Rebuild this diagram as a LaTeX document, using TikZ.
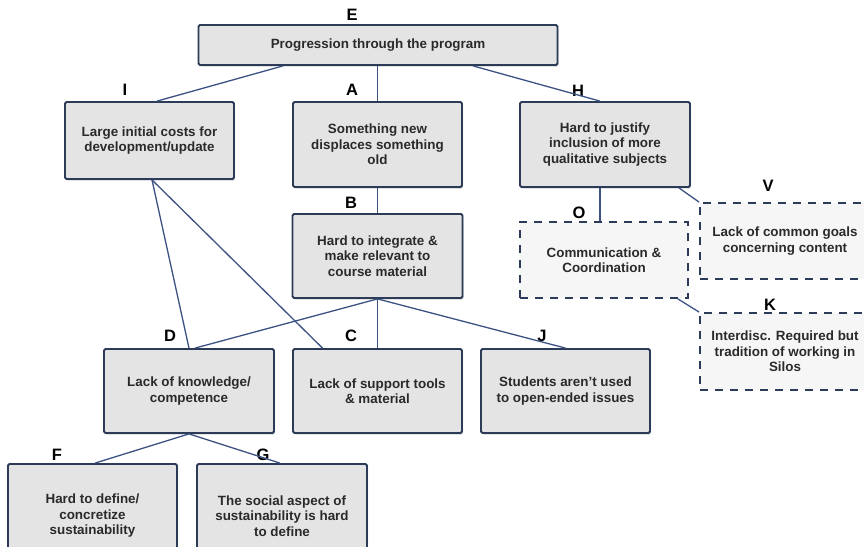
\documentclass[tikz,border=0pt]{standalone}
\usepackage{fontspec}
\setmainfont{Liberation Sans}
\usetikzlibrary{shadows}
\definecolor{edgeblue}{HTML}{2C3B58}
\definecolor{linkblue}{HTML}{3B5282}
\definecolor{boxgray}{HTML}{E4E4E4}
\definecolor{dashfill}{HTML}{F6F6F6}
\definecolor{txt}{HTML}{2A2A2A}
\tikzset{
  boxfont/.style={font=\bfseries\fontsize{13.4}{15.5}\selectfont},
  issue/.style={draw=edgeblue, line width=1.8pt, fill=boxgray, rounded corners=1.5pt,
    align=center, text=txt, boxfont, inner sep=0pt, anchor=center,
    drop shadow={shadow xshift=1.2pt, shadow yshift=-1.5pt, opacity=0.35}},
  softissue/.style={draw=edgeblue, line width=1.8pt, dash pattern=on 8pt off 7pt,
    fill=dashfill, align=center, text=txt, boxfont, inner sep=0pt, anchor=center},
  tag/.style={font=\bfseries\fontsize{16.5}{16.5}\selectfont, text=black, inner sep=0pt},
  link/.style={draw=linkblue, line width=1.3pt}
}
\begin{document}
\begin{tikzpicture}[x=1pt, y=-1pt]
\clip (0,0) rectangle (864,546);
\fill[white] (0,0) rectangle (864,546);

% boxes
\node[issue, minimum width=359pt, minimum height=40pt] (E) at (378,45) {Progression through the program};
\node[issue, minimum width=169pt, minimum height=77pt] (I) at (149.5,140.5) {Large initial costs for\\development/update};
\node[issue, minimum width=169pt, minimum height=85pt] (A) at (377.5,144.5) {Something new\\displaces something\\old};
\node[issue, minimum width=170pt, minimum height=85pt] (H) at (605,144.5) {Hard to justify\\inclusion of more\\qualitative subjects};
\node[issue, minimum width=170pt, minimum height=84pt] (B) at (377.5,256) {Hard to integrate \&\\make relevant to\\course material};
\node[softissue, minimum width=168pt, minimum height=76pt] (O) at (604,260) {Communication \&\\Coordination};
\node[softissue, minimum width=170pt, minimum height=76pt] (V) at (785,241) {Lack of common goals\\concerning content};
\node[softissue, minimum width=170pt, minimum height=77pt] (K) at (785,351.5) {Interdisc. Required but\\tradition of working in\\Silos};
\node[issue, minimum width=170pt, minimum height=84pt] (D) at (189,391) {Lack of knowledge/\\competence};
\node[issue, minimum width=169pt, minimum height=84pt] (C) at (377.5,391) {Lack of support tools\\\& material};
\node[issue, minimum width=169pt, minimum height=84pt] (J) at (565.5,391) {Students aren't used\\to open-ended issues};
\node[issue, minimum width=169pt, minimum height=104pt] (F) at (92.5,516) {Hard to define/\\concretize\\sustainability};
\node[issue, minimum width=170pt, minimum height=104pt] (G) at (282,516) {The social aspect of\\sustainability is hard\\to define};

% letter tags
\node[tag] (tE) at (352,15) {E};
\node[tag] (tI) at (125,90) {I};
\node[tag] (tA) at (352,90) {A};
\node[tag] (tH) at (578,91) {H};
\node[tag] (tV) at (768,186) {V};
\node[tag] (tO) at (579,213) {O};
\node[tag] (tK) at (770,305) {K};
\node[tag] (tB) at (351,203) {B};
\node[tag] (tD) at (170,336) {D};
\node[tag] (tC) at (351,336) {C};
\node[tag] (tJ) at (542,336) {J};
\node[tag] (tF) at (57,455) {F};
\node[tag] (tG) at (263,455) {G};

% connectors
\draw[link] ([xshift=-95pt]E.south) -- ([xshift=7.5pt]I.north);
\draw[link] (E.south -| A.north) -- (A.north);
\draw[link] ([xshift=95pt]E.south) -- ([xshift=-5pt]H.north);
\draw[link] (A.south) -- (B.north);
\draw[link] ([xshift=-5pt]H.south) -- ([xshift=-5pt]H.south |- O.north);
\draw[link] ([xshift=-12pt]H.south east) -- (V.north west);
\draw[link] ([xshift=-11pt]O.south east) -- (K.north west);
\draw[link] (B.south) -- (C.north);
\draw[link] (B.south) -- ([xshift=6pt]D.north);
\draw[link] (B.south) -- (J.north);
\draw[link] ([xshift=2.5pt]I.south) -- (D.north);
\draw[link] ([xshift=2.5pt]I.south) -- ([xshift=-55pt]C.north);
\draw[link] (D.south) -- ([xshift=2.5pt]F.north);
\draw[link] (D.south) -- ([xshift=-2pt]G.north);
\end{tikzpicture}
\end{document}
